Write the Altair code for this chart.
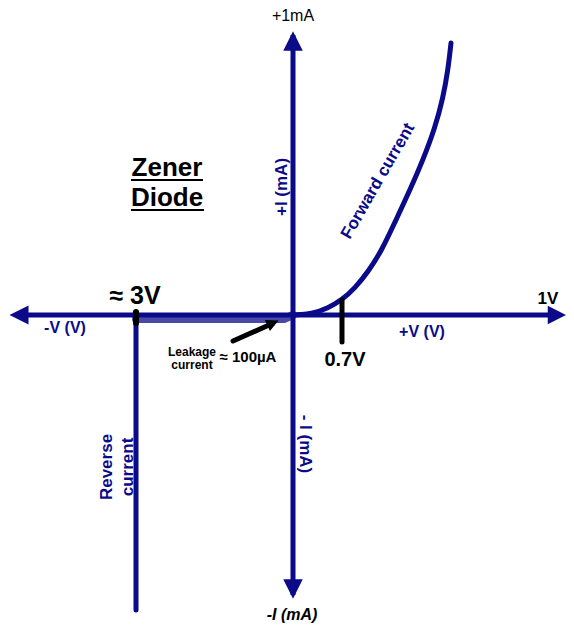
import altair as alt
import pandas as pd

NAVY = "#0b0b8a"
LEAK = "#4a4aa6"
FONT = "Liberation Sans"

# Diagram coordinates: origin at the axes crossing, x right, y up (pixel-like units)
XD = [-285, 273]
YD = [-308, 307]

# Axes
h_axis_x = [-271, 260]
h_axis_y = [0, 0]
v_axis_x = [0, 0]
v_axis_y = [-280, 280]

# Arrowheads (centres)
arrow_left = (-274, 0)
arrow_right = (264, 0)
arrow_up = (0, 274)
arrow_down = (0, -274)

# Forward current curve
fwd_v = [0, 19, 35, 49, 62, 75, 89, 102, 117, 130, 142, 150, 155, 158]
fwd_i = [0, 1, 7, 15, 27, 43, 65, 93, 125, 155, 187, 217, 245, 272]

# Reverse (zener) current line
rev_x = [-157, -157]
rev_y = [-4, -295]

# Leakage band
leak_x = [-157, -9, 0]
leak_y = [-4, -4, 0]

# Ticks
zener_tick_x = [-157, -157]
zener_tick_y = [3, -8]
knee_tick_x = [49, 49]
knee_tick_y = [15, -27]

# Leakage pointer
ptr_x = [-60, -24]
ptr_y = [-26, -10]
ptr_head = (-20, -8)

# Underlines
zener_ul_x = [-162, -90]
zener_ul_y = [135, 135]
diode_ul_x = [-162, -89]
diode_ul_y = [105, 105]

X = lambda f="x": alt.X(f"{f}:Q", scale=alt.Scale(domain=XD), axis=None)
Y = lambda f="y": alt.Y(f"{f}:Q", scale=alt.Scale(domain=YD), axis=None)


def line(xs, ys, color, width, cap="round", interp="linear"):
    df = pd.DataFrame({"x": xs, "y": ys, "o": list(range(len(xs)))})
    return alt.Chart(df).mark_line(color=color, strokeWidth=width, strokeCap=cap,
                                   strokeJoin="round", interpolate=interp).encode(
        x=X(), y=Y(), order="o:Q")


def head(pt, shape, size, angle=0, color=NAVY):
    df = pd.DataFrame({"x": [pt[0]], "y": [pt[1]]})
    return alt.Chart(df).mark_point(shape=shape, size=size, filled=True, opacity=1,
                                    color=color, strokeWidth=0, angle=angle).encode(x=X(), y=Y())


def text(t, x, y, size, color="black", bold=True, angle=0, italic=False):
    df = pd.DataFrame({"x": [x], "y": [y], "t": [t]})
    kw = dict(fontSize=size, color=color, font=FONT, align="center", baseline="middle",
              fontWeight="bold" if bold else "normal", angle=angle)
    if italic:
        kw["fontStyle"] = "italic"
    return alt.Chart(df).mark_text(**kw).encode(x=X(), y=Y(), text="t:N")


TRI_LEFT = "M-1,0L1,-1L1,1Z"
TRI_RIGHT = "M1,0L-1,-1L-1,1Z"
TRI_UP = "M0,-1L1,1L-1,1Z"
TRI_DOWN = "M0,1L1,-1L-1,-1Z"

layers = [
    line(leak_x, leak_y, LEAK, 8),
    line(h_axis_x, h_axis_y, NAVY, 5, cap="butt"),
    line(v_axis_x, v_axis_y, NAVY, 5, cap="butt"),
    head(arrow_left, TRI_LEFT, 360),
    head(arrow_right, TRI_RIGHT, 340),
    head(arrow_up, TRI_UP, 380),
    head(arrow_down, TRI_DOWN, 380),
    line(rev_x, rev_y, NAVY, 5),
    line(fwd_v, fwd_i, NAVY, 5, interp="basis"),
    line(zener_tick_x, zener_tick_y, "black", 6),
    line(knee_tick_x, knee_tick_y, "black", 5),
    line(ptr_x, ptr_y, "black", 5),
    head(ptr_head, TRI_RIGHT, 150, angle=336, color="black"),
    line(zener_ul_x, zener_ul_y, "black", 2, cap="butt"),
    line(diode_ul_x, diode_ul_y, "black", 2, cap="butt"),
    text("+1mA", 0, 299, 16, bold=False),
    text("Zener", -126, 147, 26),
    text("Diode", -126, 117, 26),
    text("+I (mA)", -11, 128, 17, color=NAVY, angle=270),
    text("- I (mA)", 12, -129, 17, color=NAVY, angle=90),
    text("-I (mA)", -1, -300, 16, italic=True),
    text("Reverse", -186, -152, 17, color=NAVY, angle=270),
    text("current", -165, -152, 17, color=NAVY, angle=270),
    text("Forward current", 85, 134, 17, color=NAVY, angle=300),
    text("≈ 3V", -158, 19, 25),
    text("-V (V)", -228, -13, 16, color=NAVY),
    text("Leakage", -101, -37, 12),
    text("current", -101, -50, 12),
    text("≈ 100µA", -45, -42, 15),
    text("1V", 255, 16, 17),
    text("+V (V)", 129, -17, 16, color=NAVY),
    text("0.7V", 52, -45, 20),
]

chart = alt.layer(*layers).properties(
    width=558, height=615, autosize=alt.AutoSizeParams(type="none"), padding=0,
    background="white"
).configure_view(stroke=None)

chart.save("out.html", embed_options={"renderer": "svg", "actions": False})
